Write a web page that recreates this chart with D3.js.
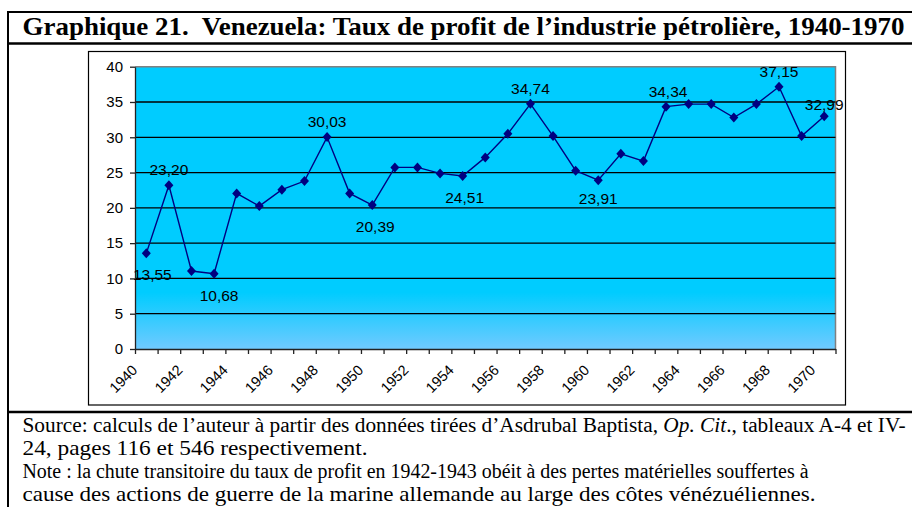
<!DOCTYPE html>
<html><head><meta charset="utf-8">
<script src="https://cdn.jsdelivr.net/npm/d3@7/dist/d3.min.js"></script>
<style>body{margin:0;background:#fff} svg{display:block}</style>
</head><body>
<script>
// ---- data ----
const years = [1940,1941,1942,1943,1944,1945,1946,1947,1948,1949,1950,1951,1952,1953,1954,1955,1956,1957,1958,1959,1960,1961,1962,1963,1964,1965,1966,1967,1968,1969,1970];
const profitRate = [13.55,23.20,11.05,10.68,22.05,20.25,22.57,23.80,30.03,22.05,20.39,25.73,25.73,24.88,24.51,27.15,30.50,34.74,30.17,25.26,23.91,27.67,26.63,34.34,34.70,34.70,32.80,34.70,37.15,30.17,32.99];
const yTickValues = [0,5,10,15,20,25,30,35,40];
const xTickLabels = ["1940","1942","1944","1946","1948","1950","1952","1954","1956","1958","1960","1962","1964","1966","1968","1970"];
const labeledYears = [1940,1941,1943,1948,1950,1954,1957,1960,1963,1968,1970];
const titleText = "Graphique 21.\u00A0 Venezuela: Taux de profit de l’industrie pétrolière, 1940-1970";
const noteLines = [
  "Source: calculs de l’auteur à partir des données tirées d’Asdrubal Baptista, |Op. Cit|., tableaux A-4 et IV-",
  "24, pages 116 et 546 respectivement.",
  "Note : la chute transitoire du taux de profit en 1942-1943 obéit à des pertes matérielles souffertes à",
  "cause des actions de guerre de la marine allemande au large des côtes vénézuéliennes."
];

// ---- style / layout ----
const W = 912, H = 507;
const plot = {left:135, right:835.5, top:66.7, bottom:349};
const labelPlacement = {1940:["below",6,0],1941:["above",0,0],1943:["below",5,0],1948:["above",0,0],1950:["below",3,0],
  1954:["below",2,0],1957:["above",0,0],1960:["below",0,-3],1963:["above",2,0],1968:["above",0,0],1970:["above",0,4]};
const noteStyle = [{size:20.5, width:883, y:432},{size:21, width:345, y:455},{size:20.5, width:786, y:478},{size:21, width:793, y:501}];

const svg = d3.select("body").append("svg").attr("width", W).attr("height", H);
const defs = svg.append("defs");
const grad = defs.append("linearGradient").attr("id","bg").attr("x1",0).attr("y1",0).attr("x2",0).attr("y2",1);
grad.append("stop").attr("offset","0").attr("stop-color","#00CCFF");
grad.append("stop").attr("offset","0.8").attr("stop-color","#00CCFF");
grad.append("stop").attr("offset","1").attr("stop-color","#70CAFF");

// frame
const frame = svg.append("g").attr("fill","none").attr("stroke","#000");
frame.append("line").attr("x1",8).attr("x2",W).attr("y1",12).attr("y2",12).attr("stroke-width",2);
frame.append("line").attr("x1",8).attr("x2",8).attr("y1",11).attr("y2",H).attr("stroke-width",2);
frame.append("line").attr("x1",8).attr("x2",W).attr("y1",43.5).attr("y2",43.5).attr("stroke-width",2.5);
frame.append("line").attr("x1",8).attr("x2",W).attr("y1",412).attr("y2",412).attr("stroke-width",2.5);
frame.append("rect").attr("x",88.5).attr("y",51.5).attr("width",757).attr("height",353.5).attr("stroke-width",1.2);

// title
svg.append("text").attr("x",22.5).attr("y",35).attr("font-family","'Liberation Serif','Times New Roman',serif")
  .attr("font-weight","bold").attr("font-size",26).attr("textLength",882).attr("lengthAdjust","spacingAndGlyphs")
  .attr("fill","#000").text(titleText);

// scales
const x = d3.scaleBand().domain(years).range([plot.left, plot.right]).padding(0);
const xIdx = d3.scaleLinear().domain([0, years.length]).range([plot.left, plot.right]);
const y = d3.scaleLinear().domain([0,40]).range([plot.bottom, plot.top]);
const cx = d => x(d) + x.bandwidth()/2;

// plot background
svg.append("rect").attr("x",plot.left).attr("y",plot.top).attr("width",plot.right-plot.left).attr("height",plot.bottom-plot.top)
  .attr("fill","url(#bg)");
svg.append("path").attr("d",`M${plot.left},${plot.top}H${plot.right}V${plot.bottom}`).attr("fill","none").attr("stroke","#808080").attr("stroke-width",1.5);

// gridlines
svg.append("g").selectAll("line").data(yTickValues.filter(v=>v>0 && v<40)).join("line")
  .attr("x1",plot.left).attr("x2",plot.right).attr("y1",d=>y(d)).attr("y2",d=>y(d))
  .attr("stroke","#000").attr("stroke-width",1.3);

// y axis
const yAxis = svg.append("g").attr("transform",`translate(${plot.left},0)`)
  .call(d3.axisLeft(y).tickValues(yTickValues).tickSize(5).tickSizeOuter(0).tickPadding(7));
yAxis.selectAll("text").attr("font-family","'Liberation Sans',Arial,sans-serif").attr("font-size",15).attr("fill","#000");
yAxis.selectAll("line,path").attr("stroke","#222").attr("stroke-width",1.3);

// x axis (ticks at category boundaries)
const xAxis = svg.append("g").attr("transform",`translate(0,${plot.bottom})`)
  .call(d3.axisBottom(xIdx).tickValues(d3.range(years.length+1)).tickFormat("").tickSize(5).tickSizeOuter(0));
xAxis.selectAll("line,path").attr("stroke","#222").attr("stroke-width",1.3);
svg.append("g").selectAll("text").data(xTickLabels).join("text")
  .attr("transform",d=>`translate(${cx(+d)-8},${plot.bottom+22}) rotate(-45)`)
  .attr("text-anchor","end").attr("font-family","'Liberation Sans',Arial,sans-serif").attr("font-size",14.5)
  .attr("fill","#000").text(d=>d);

// series
const pts = years.map((yr,i)=>({yr, v:profitRate[i]}));
svg.append("path").datum(pts).attr("fill","none").attr("stroke","#000080").attr("stroke-width",1.4)
  .attr("d", d3.line().x(d=>cx(d.yr)).y(d=>y(d.v)));
svg.append("g").selectAll("path").data(pts).join("path")
  .attr("transform",d=>`translate(${cx(d.yr)},${y(d.v)})`)
  .attr("fill","#000080")
  .attr("d","M0,-5L4.5,0L0,5L-4.5,0Z");

// data labels
const fmt = v => d3.format(".2f")(v).replace(".",",");
svg.append("g").selectAll("text").data(pts.filter(p=>labeledYears.includes(p.yr))).join("text")
  .attr("x",d=>cx(d.yr)+labelPlacement[d.yr][1])
  .attr("y",d=>{const [pl,,dy]=labelPlacement[d.yr]; return y(d.v)+(pl==="above"?-10:27)+dy;})
  .attr("text-anchor","middle").attr("font-family","'Liberation Sans',Arial,sans-serif").attr("font-size",15.5)
  .attr("fill","#000").text(d=>fmt(d.v));

// notes
const notes = svg.append("g").attr("font-family","'Liberation Serif','Times New Roman',serif").attr("fill","#000");
noteLines.forEach((ln,i)=>{
  const st = noteStyle[i];
  const t = notes.append("text").attr("x",22.5).attr("y",st.y).attr("font-size",st.size);
  if (st.width) t.attr("textLength",st.width).attr("lengthAdjust","spacingAndGlyphs");
  const parts = ln.split("|");
  if (parts.length === 1) { t.text(ln); }
  else parts.forEach((part,j)=>{
    t.append("tspan").attr("font-style", j%2===1?"italic":null).text(part);
  });
});
</script>
</body></html>
